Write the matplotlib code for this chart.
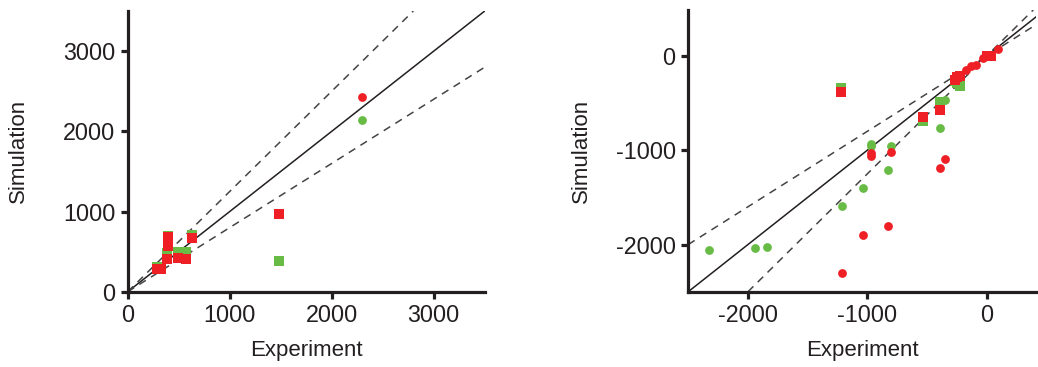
import matplotlib
matplotlib.use("Agg")
import matplotlib.pyplot as plt

plt.rcParams['font.family'] = ['Liberation Sans', 'DejaVu Sans']
plt.rcParams['axes.unicode_minus'] = False

RED = '#EE1F25'
GREEN = '#68BC45'

# ---- Left panel data ----
L_red_sq_x = [1480, 285, 325, 390, 400, 400, 400, 497, 573, 627]
L_red_sq_y = [964, 290, 290, 403, 684, 630, 575, 420, 405, 665]
L_green_sq_x = [1480, 290, 390, 400, 497, 573, 627]
L_green_sq_y = [379, 305, 486, 700, 500, 500, 712]
L_red_ci_x = [2300]
L_red_ci_y = [2430]
L_green_ci_x = [2300]
L_green_ci_y = [2145]
L_ticks = [0, 1000, 2000, 3000]

# ---- Right panel data ----
R_red_sq_x = [-1220, -536, -393, -270, -228, -250, 0, 30]
R_red_sq_y = [-380, -649, -571, -254, -212, -230, 0, 0]
R_green_sq_x = [-1220, -536, -393, -228, -250, -270]
R_green_sq_y = [-345, -690, -494, -317, -290, -265]
R_red_ci_x = [-348, -393, -1040, -825, -1216, -172, -131, -95, -33, 92, -971, -971, -806]
R_red_ci_y = [-1093, -1189, -1894, -1802, -2305, -155, -113, -95, -25, 71, -1030, -1058, -1019]
R_green_ci_x = [-971, -971, -806, -825, -1040, -1216, -393, -348, -2329, -1938, -1843]
R_green_ci_y = [-934, -960, -960, -1206, -1404, -1587, -769, -466, -2060, -2039, -2025]
R_xticks = [-2000, -1000, 0]
R_yticks = [-2000, -1000, 0]

fig = plt.figure(figsize=(10.38, 3.67), dpi=100)
axL = fig.add_axes([0.123, 0.205, 0.344, 0.765])
axR = fig.add_axes([0.663, 0.205, 0.335, 0.768])

SQ = 46
CI = 40
INK = '#231F20'


def style(ax, ylab_x):
    for s in ['top', 'right']:
        ax.spines[s].set_visible(False)
    for s in ['left', 'bottom']:
        ax.spines[s].set_linewidth(2.3)
        ax.spines[s].set_color(INK)
    ax.tick_params(direction='out', length=5, width=2.3, labelsize=16.8,
                   color=INK, labelcolor=INK, pad=4)
    ax.set_xlabel('Experiment', fontsize=16, color=INK)
    ax.set_ylabel('Simulation', fontsize=16, color=INK)
    ax.xaxis.set_label_coords(0.5, -0.172)
    ax.yaxis.set_label_coords(ylab_x, 0.5)


def lines(ax):
    ax.axline((0, 0), slope=1.0, color=INK, lw=1.1, zorder=1)
    ax.axline((0, 0), slope=1.25, color='#444444', lw=1.1, ls=(0, (5, 4)), zorder=1)
    ax.axline((0, 0), slope=0.8, color='#444444', lw=1.1, ls=(0, (5, 4)), zorder=1)


# Left
lines(axL)
axL.scatter(L_green_sq_x, L_green_sq_y, marker='s', s=SQ, color=GREEN, lw=0, zorder=2)
axL.scatter(L_green_ci_x, L_green_ci_y, marker='o', s=CI, color=GREEN, lw=0, zorder=2)
axL.scatter(L_red_sq_x, L_red_sq_y, marker='s', s=SQ, color=RED, lw=0, zorder=3)
axL.scatter(L_red_ci_x, L_red_ci_y, marker='o', s=CI, color=RED, lw=0, zorder=3)
axL.set_xlim(0, 3500)
axL.set_ylim(0, 3500)
axL.set_xticks(L_ticks)
axL.set_yticks(L_ticks)
style(axL, -0.276)

# Right
lines(axR)
axR.scatter(R_green_sq_x, R_green_sq_y, marker='s', s=SQ, color=GREEN, lw=0, zorder=2)
axR.scatter(R_green_ci_x, R_green_ci_y, marker='o', s=CI, color=GREEN, lw=0, zorder=2)
axR.scatter(R_red_sq_x, R_red_sq_y, marker='s', s=SQ, color=RED, lw=0, zorder=3)
axR.scatter(R_red_ci_x, R_red_ci_y, marker='o', s=CI, color=RED, lw=0, zorder=3)
axR.set_xlim(-2500, 410)
axR.set_ylim(-2500, 485)
axR.set_xticks(R_xticks)
axR.set_yticks(R_yticks)
style(axR, -0.277)

fig.savefig('out.png', dpi=100)
